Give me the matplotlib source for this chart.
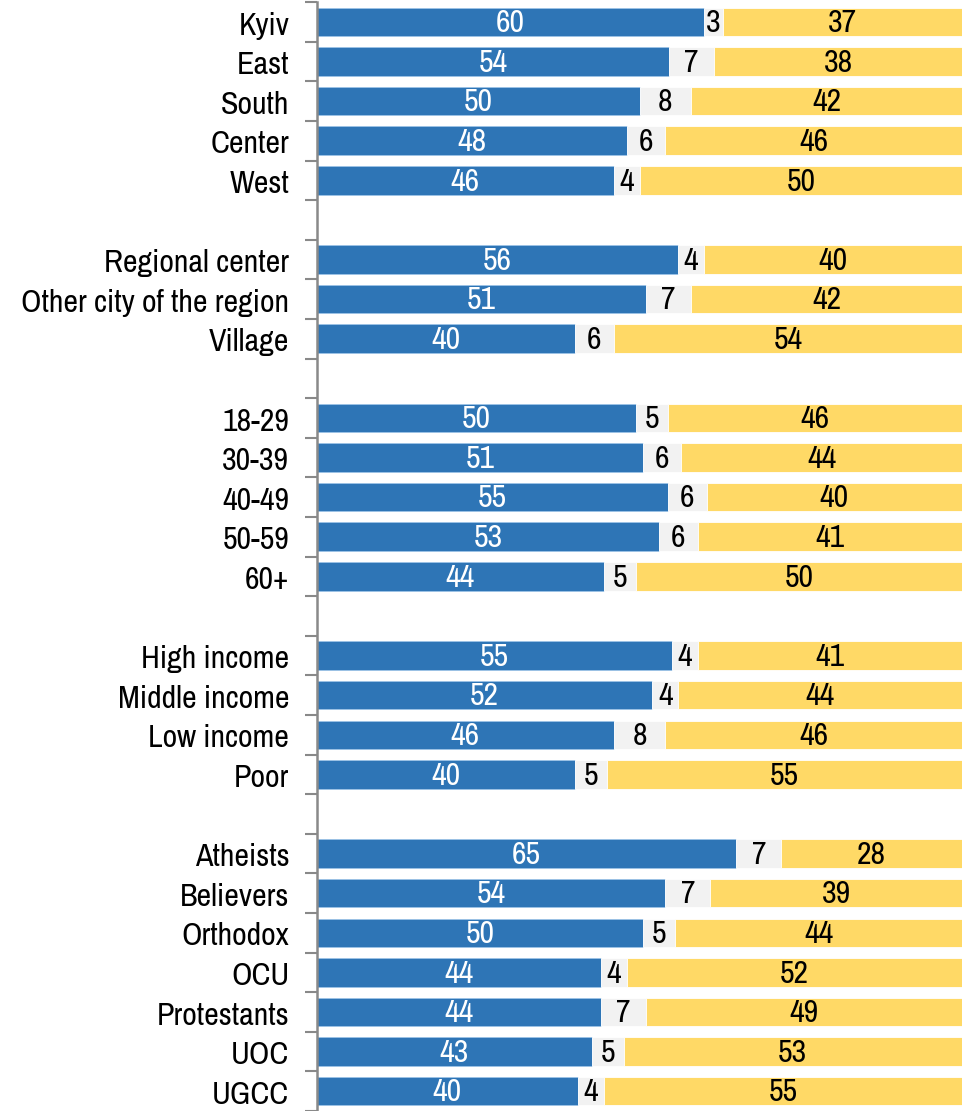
import numpy as np
import matplotlib.pyplot as plt
from matplotlib import font_manager

# pick a narrow sans, close to Arial Narrow
names = set(f.name for f in font_manager.fontManager.ttflist)
narrow = [f for f in ['Liberation Sans Narrow', 'Archivo Narrow', 'Roboto Condensed', 'PT Sans Narrow']
          if f in names]
plt.rcParams['font.family'] = narrow[:1] + ['DejaVu Sans']

# '' marks the gaps between groups
labels = ['Kyiv', 'East', 'South', 'Center', 'West', '',
          'Regional center', 'Other city of the region', 'Village', '',
          '18-29', '30-39', '40-49', '50-59', '60+', '',
          'High income', 'Middle income', 'Low income', 'Poor', '',
          'Atheists', 'Believers', 'Orthodox', 'OCU', 'Protestants', 'UOC', 'UGCC']
blue = [60, 54, 50, 48, 46, None, 56, 51, 40, None, 50, 51, 55, 53, 44, None,
        55, 52, 46, 40, None, 65, 54, 50, 44, 44, 43, 40]
gray = [3, 7, 8, 6, 4, None, 4, 7, 6, None, 5, 6, 6, 6, 5, None,
        4, 4, 8, 5, None, 7, 7, 5, 4, 7, 5, 4]
yellow = [37, 38, 42, 46, 50, None, 40, 42, 54, None, 46, 44, 40, 41, 50, None,
          41, 44, 46, 55, None, 28, 39, 44, 52, 49, 53, 55]

c_blue = '#2E75B6'
c_gray = '#F2F2F2'
c_yellow = '#FFD966'

fig = plt.figure(figsize=(9.76, 11.11), dpi=100)
ax = fig.add_axes([317/976, 0, (962-317)/976, 1 - 2.1/1111])

fs = 23
dy = 0.03
for i, lab in enumerate(labels):
    if blue[i] is None:
        continue
    tot = blue[i] + gray[i] + yellow[i]
    b = blue[i] / tot * 100
    g = gray[i] / tot * 100
    y = yellow[i] / tot * 100
    ax.barh(i, b, height=0.72, color=c_blue, edgecolor='#9DC3E6', linewidth=0.6)
    ax.barh(i, g, left=b, height=0.72, color=c_gray, edgecolor='white', linewidth=0.6)
    ax.barh(i, y, left=b + g, height=0.72, color=c_yellow, edgecolor='white', linewidth=0.6)
    ax.text(b / 2, i + dy, str(blue[i]), color='white', ha='center', va='center', fontsize=fs)
    ax.text(b + g / 2, i + dy, str(gray[i]), color='black', ha='center', va='center', fontsize=fs)
    ax.text(b + g + y / 2, i + dy, str(yellow[i]), color='black', ha='center', va='center', fontsize=fs)

n = len(labels)
ax.set_xlim(0, 100)
ax.set_ylim(n - 1 + 15/39.78, -0.5)
ax.set_yticks(np.arange(n) + dy)
ax.set_yticklabels(labels, fontsize=fs)
ax.set_yticks(np.arange(-0.5, n, 1), minor=True)
ax.tick_params(axis='y', which='major', length=0, pad=20)
ax.tick_params(axis='y', which='minor', length=9, width=1.5, color='#898989')
ax.set_xticks([])
for s in ['top', 'right', 'bottom']:
    ax.spines[s].set_visible(False)
ax.spines['left'].set_color('#898989')
ax.spines['left'].set_linewidth(1.8)

fig.savefig('out.png', dpi=100)
